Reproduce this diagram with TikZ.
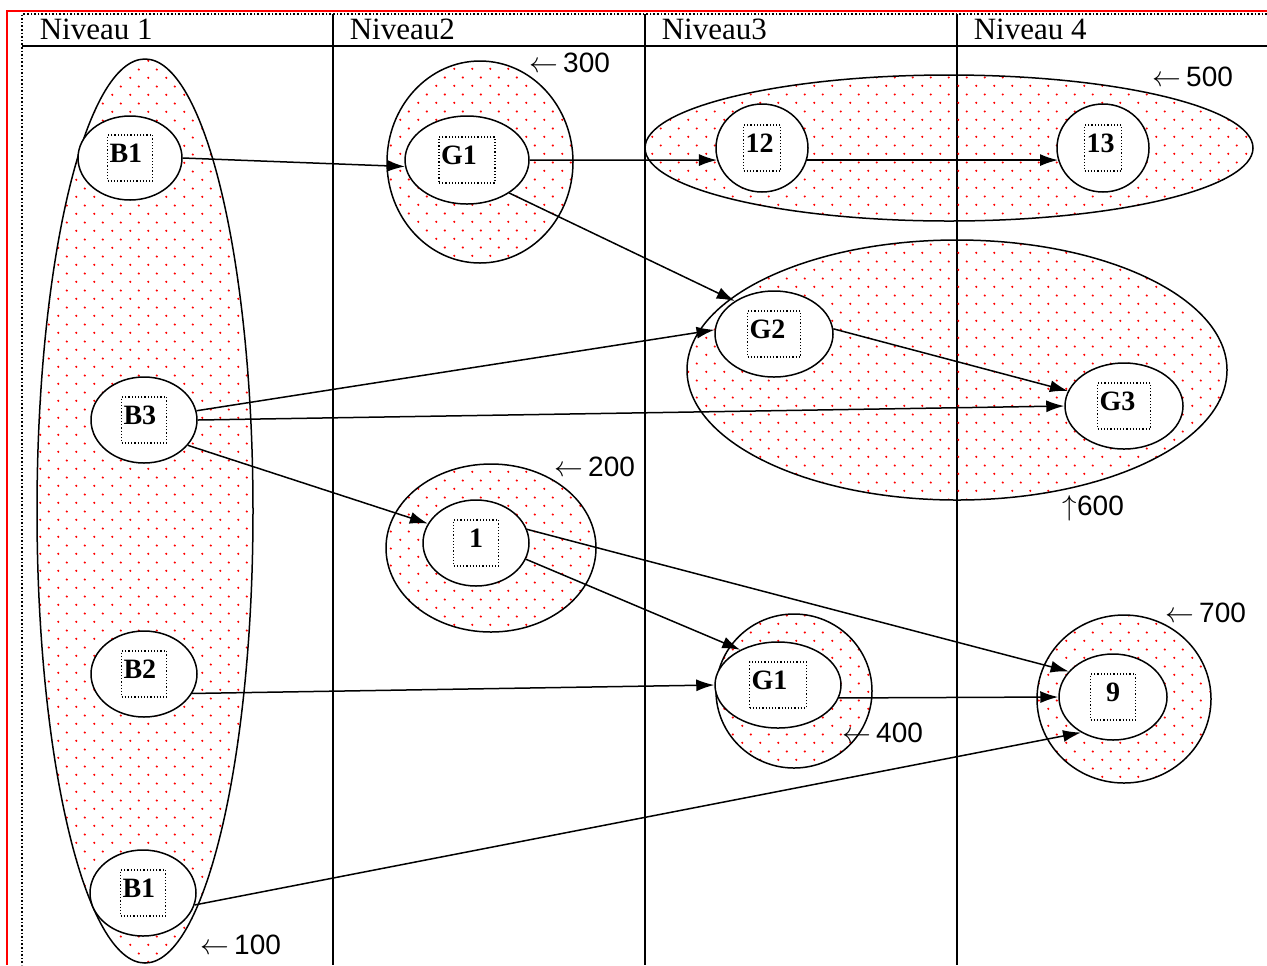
\documentclass[tikz,border=0pt]{standalone}
\usepackage{fontspec}
\setmainfont{Liberation Serif}
\newfontfamily\tagfont{Liberation Sans}
\usetikzlibrary{arrows.meta,shapes.geometric,patterns.meta}

\tikzdeclarepattern{
  name=reddots,
  type=uncolored,
  bottom left={(0pt,0pt)},
  top right={(9pt,8.4pt)},
  tile size={(9pt,8.4pt)},
  code={
    \fill (2.25pt,2.1pt) circle [radius=0.6pt];
    \fill (6.75pt,6.3pt) circle [radius=0.6pt];
  }
}

\begin{document}
\begin{tikzpicture}[x=0.5pt, y=-0.5pt, >={Latex[length=9pt,width=6pt]}, line width=0.75pt,
    blob/.style={draw, ellipse, inner sep=0pt, pattern=reddots, pattern color=red},
    elt/.style={draw, ellipse, fill=white, inner sep=0pt, minimum width=53pt, minimum height=43pt},
    tbox/.style={draw, densely dotted, line width=0.6pt, inner xsep=1pt, inner ysep=2pt,
      text height=11.5pt, text depth=7.5pt, text width=20.5pt, align=left,
      font=\bfseries\fontsize{14}{14}\selectfont},
    tag/.style={anchor=west, inner sep=0pt, font=\tagfont\fontsize{14}{14}\selectfont},
    head/.style={anchor=base west, inner sep=0pt, font=\fontsize{15.5}{16}\selectfont}]
    \useasboundingbox (0,0) rectangle (1267,965);

    \draw[red, line width=1pt] (1267,11) -| (7,965);
    \draw[densely dotted, line width=0.8pt] (1267,14) -| (22,965);
    \draw (22,46) -- (1267,46);
    \foreach \cx in {333,645,957}
        \draw (\cx,14) -- (\cx,965);

    \node[head] (h1) at (39,39) {Niveau 1};
    \node[head] (h2) at (349,39) {Niveau2};
    \node[head] (h3) at (661,39) {Niveau3};
    \node[head] (h4) at (973,39) {Niveau 4};

    \node[blob, minimum width=108pt, minimum height=452pt] (grp100) at (145,511) {};
    \node[blob, minimum width=93pt, minimum height=101pt] (grp300) at (480,162) {};
    \node[blob, minimum width=304pt, minimum height=73pt] (grp500) at (949,148) {};
    \node[blob, minimum width=270pt, minimum height=130pt] (grp600) at (957,370) {};
    \node[blob, minimum width=105pt, minimum height=84pt] (grp200) at (491,548) {};
    \node[blob, minimum width=78pt, minimum height=77pt] (grp400) at (794,691) {};
    \node[blob, minimum width=87pt, minimum height=84pt] (grp700) at (1124,699) {};

    \node[elt, minimum width=52pt, minimum height=42pt, label={[tbox]center:B1}] (b1a) at (130,158) {};
    \node[elt, minimum width=62pt, minimum height=44pt, label={[tbox, text width=26pt]center:G1}] (g1a) at (467,160) {};
    \node[elt, minimum width=46pt, minimum height=44pt, label={[tbox, text width=16.5pt]center:12}] (n12) at (762,148) {};
    \node[elt, minimum width=46pt, minimum height=44pt, label={[tbox, text width=16.5pt]center:13}] (n13) at (1103,148) {};
    \node[elt, minimum width=59pt, label={[tbox, text width=24.5pt]center:G2}] (g2) at (774,334) {};
    \node[elt, minimum width=59pt, label={[tbox, text width=24.5pt]center:G3}] (g3) at (1124,406) {};
    \node[elt, label={[tbox]center:B3}] (b3) at (144,420) {};
    \node[elt, label={[tbox, align=center]center:1}] (n1) at (476,543) {};
    \node[elt, label={[tbox]center:B2}] (b2) at (144,674) {};
    \node[elt, minimum width=63pt, label={[tbox, text width=26.5pt]center:G1}] (g1b) at (778,685) {};
    \node[elt, minimum width=54pt, label={[tbox, align=center]center:9}] (n9) at (1113,697) {};
    \node[elt, label={[tbox]center:B1}] (b1b) at (143,893) {};

    \node[tag] (t100) at (200,945) {$\leftarrow$\,100};
    \node[tag] (t200) at (554,467) {$\leftarrow$\,200};
    \node[tag] (t300) at (529,63) {$\leftarrow$\,300};
    \node[tag] (t400) at (842,733) {$\leftarrow$\,400};
    \node[tag] (t500) at (1152,77) {$\leftarrow$\,500};
    \node[tag] (t600) at (1062,508) {$\uparrow$600};
    \node[tag] (t700) at (1165,613) {$\leftarrow$\,700};

    \draw[->] (b1a.east) -- (g1a.186);
    \draw[->] (g1a.east) -- (n12.195);
    \draw[->] (n12.-15) -- (n13.195);
    \draw[->] (g1a.-38) -- (g2.140);
    \draw[->] (b3.10) -- (g2.176);
    \draw[->] (b3.east) -- (g3.west);
    \draw[->] (b3.-30) -- (n1.158);
    \draw[->] (g2.5) -- (g3.165);
    \draw[->] (n1.15) -- (n9.150);
    \draw[->] (n1.-18) -- (g1b.137);
    \draw[->] (b2.-22) -- (g1b.west);
    \draw[->] (g1b.-12) -- (n9.west);
    \draw[->] (b1b.-13) -- (n9.228);
\end{tikzpicture}
\end{document}
